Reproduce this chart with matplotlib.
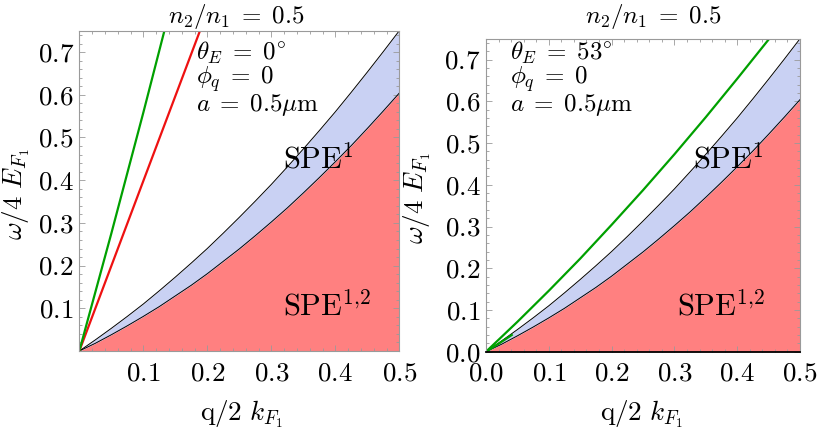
import matplotlib
matplotlib.use("Agg")
import matplotlib.pyplot as plt
from matplotlib.ticker import MultipleLocator, FixedLocator, FuncFormatter

plt.rcParams['mathtext.fontset'] = 'cm'
plt.rcParams['font.family'] = 'serif'
plt.rcParams['font.serif'] = ['cmr10', 'DejaVu Serif']
plt.rcParams['axes.formatter.use_mathtext'] = True

# SPE boundaries (same in both panels)
q_spe = [0, 0.025, 0.05, 0.075, 0.1, 0.125, 0.15, 0.175, 0.2, 0.225, 0.25,
         0.275, 0.3, 0.325, 0.35, 0.375, 0.4, 0.425, 0.45, 0.475, 0.5]
spe1_top = [0, 0.026, 0.053, 0.081, 0.110, 0.141, 0.173, 0.206, 0.240, 0.276, 0.313,
            0.351, 0.390, 0.431, 0.473, 0.516, 0.560, 0.606, 0.653, 0.701, 0.750]
spe12_top = [0, 0.018, 0.038, 0.059, 0.081, 0.104, 0.129, 0.154, 0.181, 0.210, 0.239,
             0.270, 0.302, 0.335, 0.370, 0.406, 0.443, 0.481, 0.521, 0.562, 0.604]

# plasmon branches, left panel (theta_E = 0)
q_green_l = [0, 0.05, 0.1, 0.133]
w_green_l = [0, 0.275, 0.558, 0.75]
q_red_l = [0, 0.1, 0.1886]
w_red_l = [0, 0.398, 0.75]

# plasmon branches, right panel (theta_E = 53)
q_green_r = [0, 0.05, 0.1, 0.15, 0.2, 0.25, 0.3, 0.35, 0.4, 0.45, 0.452]
w_green_r = [0, 0.0716, 0.146, 0.223, 0.304, 0.387, 0.473, 0.562, 0.654, 0.748, 0.752]
q_green_r2 = [0, 0.02, 0.041]
w_green_r2 = [0, 0.019, 0.040]

title_txt = r'$n_2/n_1\;=\;0.5$'
notes_l = [r'$\theta_E\;=\;0^{\circ}$', r'$\phi_q\;=\;0$', r'$a\;=\;0.5\mu\mathrm{m}$']
notes_r = [r'$\theta_E\;=\;53^{\circ}$', r'$\phi_q\;=\;0$', r'$a\;=\;0.5\mu\mathrm{m}$']
note_base = [60, 84, 111]

W, H = 822, 433
red_fill = '#ff8080'
blue_fill = '#c9d1f3'
frame_gray = '#9a9a9a'


def px(x, y):
    return x / W, 1 - y / H


def tick_fmt(v, p):
    return r'$%.1f$' % v


def style_axes(ax, xticks, yticks):
    ax.set_xlim(0, 0.5)
    ax.set_ylim(0, 0.75)
    ax.xaxis.set_major_locator(FixedLocator(xticks))
    ax.yaxis.set_major_locator(FixedLocator(yticks))
    ax.xaxis.set_minor_locator(MultipleLocator(0.02))
    ax.yaxis.set_minor_locator(MultipleLocator(0.02))
    ax.xaxis.set_major_formatter(FuncFormatter(tick_fmt))
    ax.yaxis.set_major_formatter(FuncFormatter(tick_fmt))
    ax.tick_params(which='both', direction='in', top=True, right=True,
                   color=frame_gray, width=0.6, labelsize=19.5)
    ax.tick_params(which='major', length=4)
    ax.tick_params(which='minor', length=2.3)
    ax.tick_params(axis='x', pad=7.5)
    ax.tick_params(axis='y', pad=4)
    for s in ax.spines.values():
        s.set_color(frame_gray)
        s.set_linewidth(0.8)
    ax.set_xlabel(r'$\mathrm{q}/2\ k_{F_1}$', fontsize=19.5)
    ax.set_ylabel(r'$\omega/4\ E_{F_1}$', fontsize=19.5)


def draw_spe(ax):
    ax.fill_between(q_spe, 0, spe12_top, color=red_fill, lw=0)
    ax.fill_between(q_spe, spe12_top, spe1_top, color=blue_fill, lw=0)
    ax.plot(q_spe, spe1_top, color='black', lw=0.7)
    ax.plot(q_spe, spe12_top, color='black', lw=0.7)


fig = plt.figure(figsize=(W / 100, H / 100), dpi=100)

# left panel
ax1 = fig.add_axes([79.3 / W, (H - 351) / H, 320 / W, 320.3 / H])
draw_spe(ax1)
ax1.plot(q_red_l, w_red_l, color='#ee1111', lw=1.6)
ax1.plot(q_green_l, w_green_l, color='#00a000', lw=1.6)
style_axes(ax1, [0.1, 0.2, 0.3, 0.4, 0.5], [0.1, 0.2, 0.3, 0.4, 0.5, 0.6, 0.7])
ax1.xaxis.set_label_coords(0.508, -0.148)
ax1.yaxis.set_label_coords(-0.148, 0.49)
ax1.text(0.318, 0.429, r'$\mathrm{SPE}^{1}$', fontsize=22)
ax1.text(0.318, 0.084, r'$\mathrm{SPE}^{1{,}2}$', fontsize=22)

# right panel
ax2 = fig.add_axes([486 / W, (H - 351.7) / H, 314 / W, 313 / H])
draw_spe(ax2)
ax2.plot(q_green_r, w_green_r, color='#00a000', lw=1.6)
ax2.plot(q_green_r2, w_green_r2, color='#00a000', lw=1.6)
style_axes(ax2, [0.0, 0.1, 0.2, 0.3, 0.4, 0.5], [0.0, 0.1, 0.2, 0.3, 0.4, 0.5, 0.6, 0.7])
ax2.spines['bottom'].set_color('black')
ax2.spines['bottom'].set_linewidth(1.3)
ax2.xaxis.set_label_coords(0.494, -0.150)
ax2.yaxis.set_label_coords(-0.169, 0.49)
ax2.text(0.33, 0.440, r'$\mathrm{SPE}^{1}$', fontsize=22)
ax2.text(0.304, 0.088, r'$\mathrm{SPE}^{1{,}2}$', fontsize=22)

# titles and parameter notes
fig.text(*px(236, 22.7), title_txt, fontsize=18, ha='center', va='baseline')
fig.text(*px(653, 22.7), title_txt, fontsize=18, ha='center', va='baseline')
for t, yb in zip(notes_l, note_base):
    fig.text(*px(196, yb), t, fontsize=18, ha='left', va='baseline')
for t, yb in zip(notes_r, note_base):
    fig.text(*px(510, yb), t, fontsize=18, ha='left', va='baseline')

fig.savefig('out.png', dpi=100)
